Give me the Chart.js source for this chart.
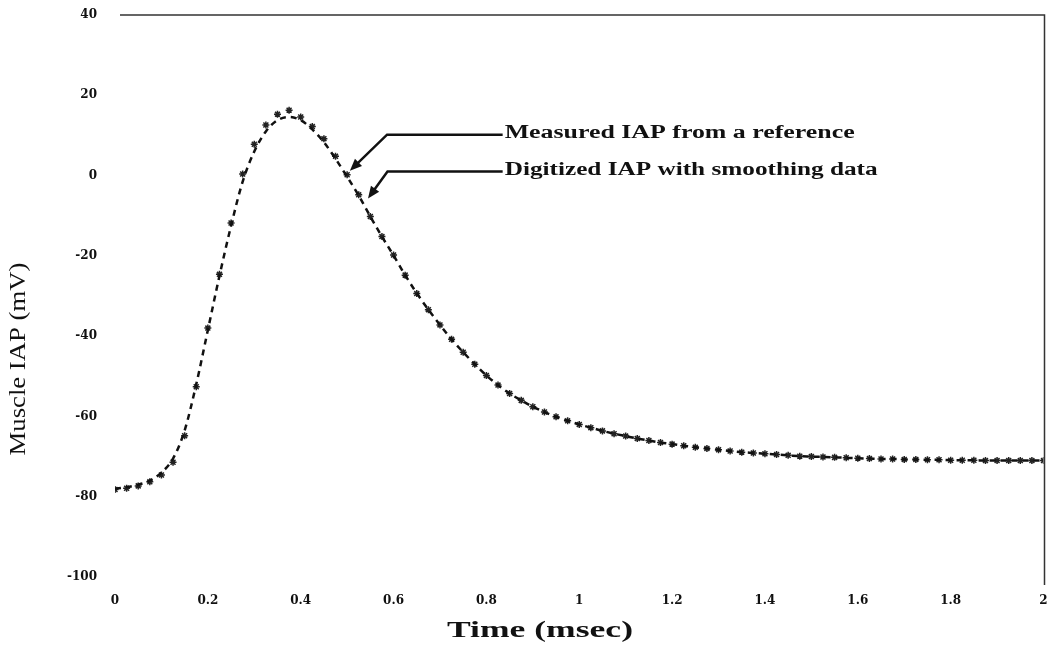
<!DOCTYPE html>
<html>
<head>
<meta charset="utf-8">
<script src="https://cdn.jsdelivr.net/npm/chart.js@4.4.1/dist/chart.umd.min.js"></script>
<style>
  body { margin: 0; background: #fff; }
  canvas { display: block; }
</style>
</head>
<body>
<canvas id="iapChart" width="1049" height="647"></canvas>
<script>
// time points (msec)
const times = [
  0, 0.025, 0.05, 0.075, 0.1, 0.125, 0.15, 0.175, 0.2, 0.225,
  0.25, 0.275, 0.3, 0.325, 0.35, 0.375, 0.4, 0.425, 0.45, 0.475,
  0.5, 0.525, 0.55, 0.575, 0.6, 0.625, 0.65, 0.675, 0.7, 0.725,
  0.75, 0.775, 0.8, 0.825, 0.85, 0.875, 0.9, 0.925, 0.95, 0.975,
  1, 1.025, 1.05, 1.075, 1.1, 1.125, 1.15, 1.175, 1.2, 1.225,
  1.25, 1.275, 1.3, 1.325, 1.35, 1.375, 1.4, 1.425, 1.45, 1.475,
  1.5, 1.525, 1.55, 1.575, 1.6, 1.625, 1.65, 1.675, 1.7, 1.725,
  1.75, 1.775, 1.8, 1.825, 1.85, 1.875, 1.9, 1.925, 1.95, 1.975, 2
];

// measured IAP (asterisks), mV
const measured = [
  -78.2, -77.9, -77.3, -76.3, -74.6, -71.4, -64.8, -52.6, -38.0, -24.6,
  -11.8, 0.4, 7.8, 12.6, 15.3, 16.3, 14.6, 12.2, 9.2, 4.8,
  0.2, -4.8, -10.2, -15.2, -19.8, -24.8, -29.4, -33.4, -37.2, -40.8,
  -44.0, -47.0, -49.8, -52.2, -54.3, -56.0, -57.6, -58.9, -60.1, -61.1,
  -62.0, -62.8, -63.6, -64.3, -64.9, -65.5, -66.0, -66.5, -66.9, -67.3,
  -67.7, -68.0, -68.3, -68.6, -68.9, -69.1, -69.3, -69.5, -69.7, -69.9,
  -70.0, -70.1, -70.2, -70.3, -70.4, -70.5, -70.6, -70.6, -70.7, -70.7,
  -70.8, -70.8, -70.9, -70.9, -70.9, -71.0, -71.0, -71.0, -71.0, -71.0, -71.0
];

// digitized IAP with smoothing (dashed line), mV
const smoothed = [
  -78.0, -77.6, -77.0, -76.0, -74.0, -70.5, -63.5, -52.0, -38.5, -25.0,
  -12.5, -1.5, 6.0, 11.0, 13.8, 14.6, 13.8, 11.5, 8.3, 4.2,
  -0.3, -5.0, -10.2, -15.2, -19.9, -24.8, -29.3, -33.4, -37.2, -40.8,
  -44.0, -47.0, -49.8, -52.2, -54.3, -56.0, -57.6, -58.9, -60.1, -61.1,
  -62.0, -62.8, -63.6, -64.3, -64.9, -65.5, -66.0, -66.5, -66.9, -67.3,
  -67.7, -68.0, -68.3, -68.6, -68.9, -69.1, -69.3, -69.5, -69.7, -69.9,
  -70.0, -70.1, -70.2, -70.3, -70.4, -70.5, -70.6, -70.6, -70.7, -70.7,
  -70.8, -70.8, -70.9, -70.9, -70.9, -71.0, -71.0, -71.0, -71.0, -71.0, -71.0
];

const noteLabels = ['Measured IAP from a reference', 'Digitized IAP with smoothing data'];

const INK = '#111';

// draw text squeezed/stretched to a given width
function drawFitted(ctx, text, cx, cy, width, font, rot) {
  ctx.save();
  ctx.font = font;
  const w = ctx.measureText(text).width;
  ctx.translate(cx, cy);
  if (rot) ctx.rotate(rot);
  ctx.scale(width / w, 1);
  ctx.textAlign = 'center';
  ctx.textBaseline = 'middle';
  ctx.fillText(text, 0, 0);
  ctx.restore();
}

const extras = {
  id: 'extras',
  afterDraw(chart) {
    const { ctx, chartArea: a, scales: { x, y } } = chart;
    ctx.save();
    ctx.fillStyle = INK;
    ctx.strokeStyle = '#333';

    // top and right frame lines
    ctx.lineWidth = 1.5;
    ctx.beginPath();
    ctx.moveTo(a.left + 5, a.top);
    ctx.lineTo(a.right + 1, a.top);
    ctx.lineTo(a.right + 1, a.bottom + 8);
    ctx.stroke();

    // axis titles
    drawFitted(ctx, 'Time (msec)', 540, 631, 186, 'bold 23px "Liberation Serif"');
    drawFitted(ctx, 'Muscle IAP (mV)', 19, 359, 193, '24px "Liberation Serif"', -Math.PI / 2);

    // arrows with labels
    const notes = [
      { tip: [0.506, 1.2], elbow: [0.586, 10.2], end: [0.835, 10.2] },
      { tip: [0.545, -5.7], elbow: [0.587, 1.0], end: [0.835, 1.0] }
    ];
    const widths = [350, 373];
    notes.forEach((n, i) => {
      const tx = x.getPixelForValue(n.tip[0]), ty = y.getPixelForValue(n.tip[1]);
      const ex = x.getPixelForValue(n.elbow[0]), ey = y.getPixelForValue(n.elbow[1]);
      const sx = x.getPixelForValue(n.end[0]), sy = y.getPixelForValue(n.end[1]);
      ctx.strokeStyle = INK;
      ctx.lineWidth = 2.5;
      const ang = Math.atan2(ty - ey, tx - ex);
      const head = 13;
      ctx.beginPath();
      ctx.moveTo(sx, sy);
      ctx.lineTo(ex, ey);
      ctx.lineTo(tx - Math.cos(ang) * head * 0.7, ty - Math.sin(ang) * head * 0.7);
      ctx.stroke();
      ctx.beginPath();
      ctx.moveTo(tx, ty);
      ctx.lineTo(tx - Math.cos(ang - 0.4) * head, ty - Math.sin(ang - 0.4) * head);
      ctx.lineTo(tx - Math.cos(ang + 0.4) * head, ty - Math.sin(ang + 0.4) * head);
      ctx.closePath();
      ctx.fill();
      drawFitted(ctx, noteLabels[i], sx + 2 + widths[i] / 2, sy - 1, widths[i], 'bold 18px "Liberation Serif"');
    });
    ctx.restore();
  }
};

const tickFont = { family: '"DejaVu Serif"', size: 12, weight: 'bold' };

new Chart(document.getElementById('iapChart'), {
  type: 'line',
  data: {
    datasets: [
      {
        label: 'Digitized IAP with smoothing data',
        data: times.map((t, i) => ({ x: t, y: smoothed[i] })),
        borderColor: INK,
        borderWidth: 2.5,
        borderDash: [6, 5],
        pointRadius: 0,
        cubicInterpolationMode: 'monotone',
        fill: false
      },
      {
        label: 'Measured IAP from a reference',
        data: times.map((t, i) => ({ x: t, y: measured[i] })),
        showLine: false,
        pointStyle: 'star',
        pointRadius: 3.5,
        borderWidth: 1.5,
        borderColor: '#222',
        backgroundColor: '#222'
      }
    ]
  },
  options: {
    responsive: false,
    animation: false,
    devicePixelRatio: 1,
    layout: { padding: { left: 0, right: 5, top: 15, bottom: 0 } },
    plugins: {
      legend: { display: false },
      tooltip: { enabled: false }
    },
    scales: {
      x: {
        type: 'linear',
        min: 0,
        max: 2,
        grid: { display: false, drawTicks: false },
        border: { display: false },
        ticks: {
          stepSize: 0.2, font: tickFont, color: INK, padding: 17, maxRotation: 0,
          callback: v => String(+v.toFixed(1))
        },
        afterFit: s => { s.height = 70; s.paddingLeft = 0; s.paddingRight = 0; }
      },
      y: {
        min: -100,
        max: 40,
        grid: { display: false, drawTicks: false },
        border: { display: false },
        ticks: { stepSize: 20, font: tickFont, color: INK, padding: 18 },
        afterFit: s => { s.width = 115; s.paddingTop = 0; s.paddingBottom = 0; }
      }
    }
  },
  plugins: [extras]
});
</script>
</body>
</html>
